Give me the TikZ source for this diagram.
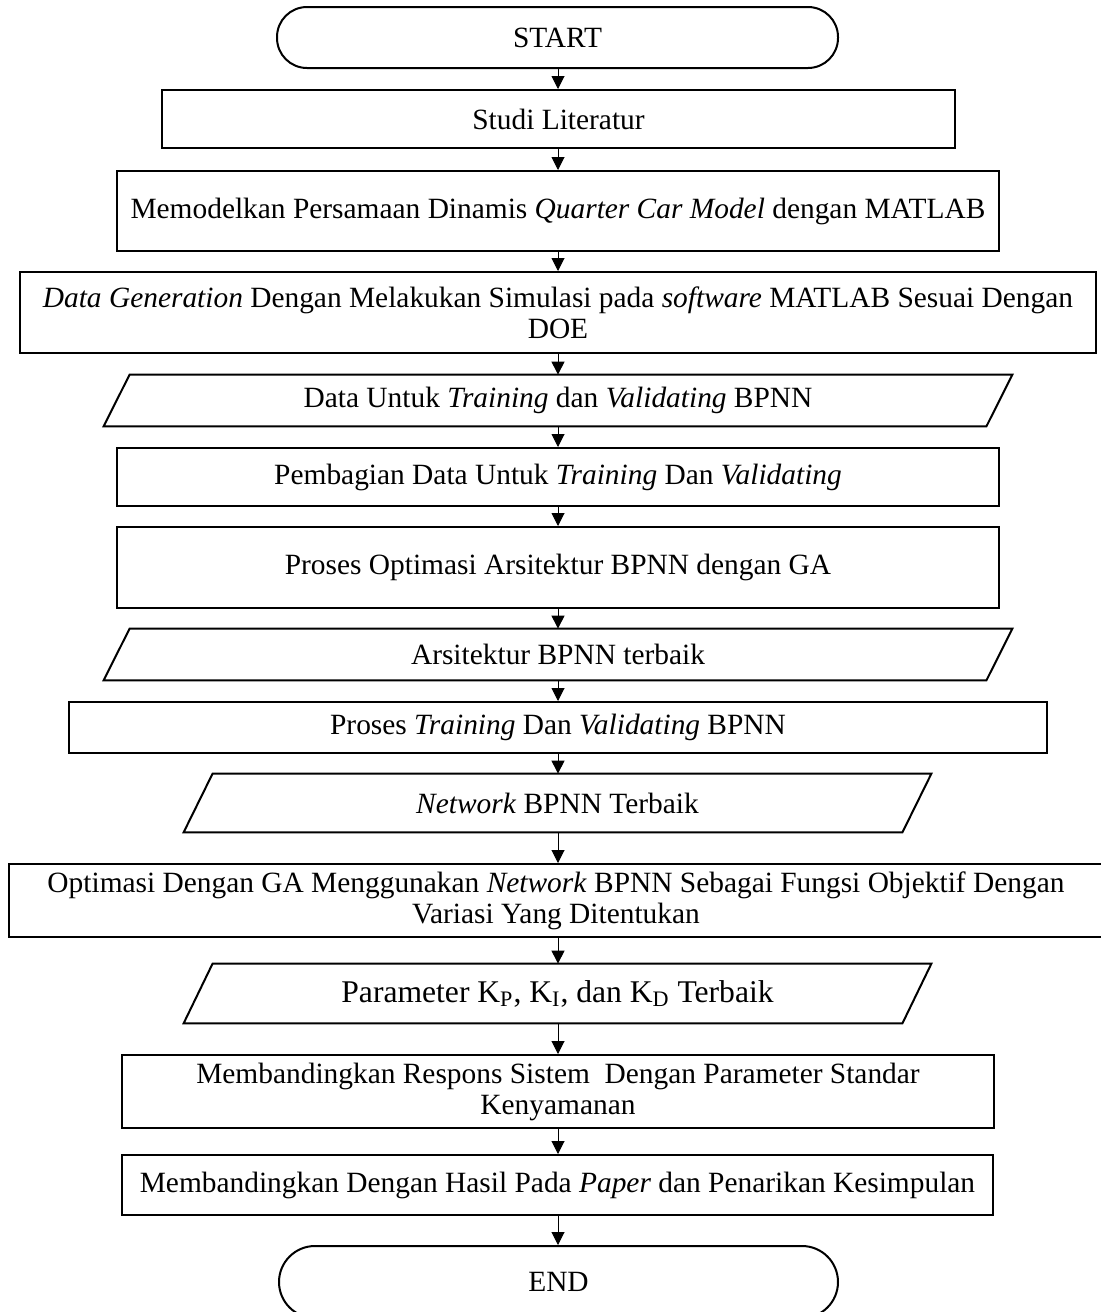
\documentclass[tikz,border=0pt]{standalone}
\usepackage{fontspec}
\setmainfont{Liberation Serif}
\usetikzlibrary{arrows.meta}
\begin{document}
\begin{tikzpicture}[x=0.5pt,y=-0.5pt,
  txt/.style={inner sep=0pt, align=center, font=\fontsize{14.7}{15.5}\selectfont},
  bigtxt/.style={font=\fontsize{15.8}{17}\selectfont},
  size/.style 2 args={minimum width=#1, minimum height=#2},
  box/.style={txt, draw, line width=1pt},
  term/.style={box, rounded corners=#1},
  io/.style={txt},
  ioline/.style={line width=1pt, line join=miter},
  flow/.style={line width=0.5pt, -{Triangle[width=6.5pt,length=6.5pt]}}]
\useasboundingbox[fill=white] (0,0) rectangle (1100,1312);
\coordinate (axis) at (558,0);

% terminators and process steps
\node[term=15pt, size={280.5pt}{30.5pt}] (start) at (557.5,37.5) {START};
\node[box, size={396.5pt}{29pt}] (lit) at (558.5,119) {Studi Literatur};
\node[box, size={441pt}{40pt}] (model) at (558,211) {Memodelkan Persamaan Dinamis \textit{Quarter Car Model} dengan MATLAB};
\node[box, size={538pt}{40.5pt}] (gen) at (558,312.5) {\textit{Data Generation} Dengan Melakukan Simulasi pada \textit{software} MATLAB Sesuai Dengan\\DOE};
\node[io, size={454pt}{25.5pt}] (data) at (558,400.5) {Data Untuk \textit{Training} dan \textit{Validating} BPNN};
\node[box, size={441pt}{29pt}] (split) at (558,477) {Pembagian Data Untuk \textit{Training} Dan \textit{Validating}};
\node[box, size={441pt}{40.5pt}] (optarch) at (558,567.5) {Proses Optimasi Arsitektur BPNN dengan GA};
\node[io, size={454pt}{25.5pt}] (arch) at (558,654.5) {Arsitektur BPNN terbaik};
\node[box, size={489pt}{25.5pt}] (train) at (558,727.5) {Proses \textit{Training} Dan \textit{Validating} BPNN};
\node[io, size={373.5pt}{29pt}] (net) at (557.5,803) {\textit{Network} BPNN Terbaik};
\node[box, size={547pt}{36.5pt}] (optga) at (556,900.5) {Optimasi Dengan GA Menggunakan \textit{Network} BPNN Sebagai Fungsi Objektif Dengan\\Variasi Yang Ditentukan};
\node[io, bigtxt, size={373.5pt}{29.5pt}] (par) at (557.5,993.5) {Parameter K\textsubscript{P}, K\textsubscript{I}, dan K\textsubscript{D} Terbaik};
\node[box, size={436pt}{36.5pt}] (resp) at (558,1091.5) {Membandingkan Respons Sistem\ \ Dengan Parameter Standar\\Kenyamanan};
\node[box, size={435.5pt}{30pt}] (paper) at (557.5,1185) {Membandingkan Dengan Hasil Pada \textit{Paper} dan Penarikan Kesimpulan};
\node[term=18pt, size={279.5pt}{36pt}] (end) at (558.5,1282) {END};

% data (input/output) parallelograms
\foreach \n/\s in {data/13pt, arch/13pt, net/14.5pt, par/14.5pt}{
  \draw[ioline] ([xshift=\s]\n.north west) -- (\n.north east)
    -- ([xshift=-\s]\n.south east) -- (\n.south west) -- cycle;
}

% flow connectors
\foreach \a/\b in {start/lit, lit/model, model/gen, gen/data, data/split,
  split/optarch, optarch/arch, arch/train, train/net, net/optga,
  optga/par, par/resp, resp/paper, paper/end}{
  \draw[flow] (\a.south -| axis) -- (\b.north -| axis);
}
\end{tikzpicture}
\end{document}
